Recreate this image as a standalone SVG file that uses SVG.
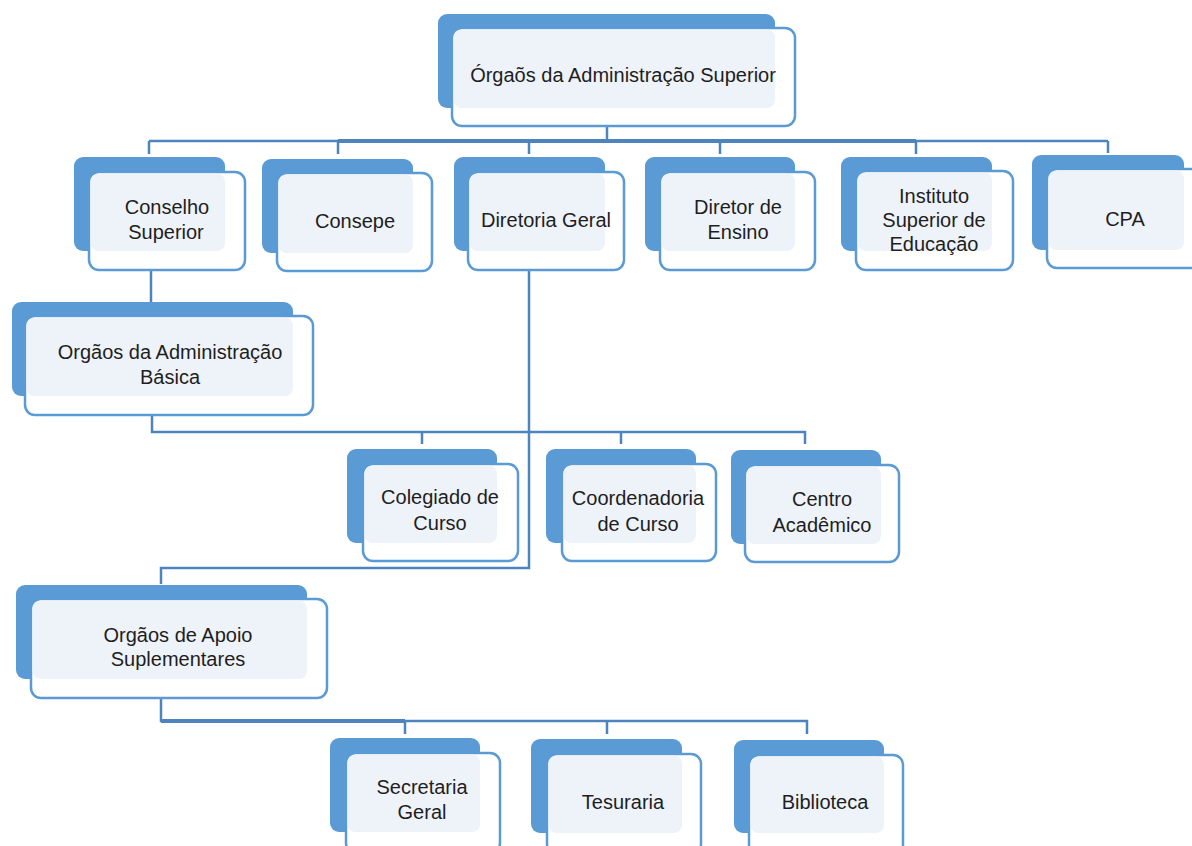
<svg xmlns="http://www.w3.org/2000/svg" width="1192" height="846" viewBox="0 0 1192 846">
<style>
.bk{fill:#5B9BD5}
.fr{fill:#FFFFFF;stroke:#5B9BD5;stroke-width:2.5}
.lt{fill:#EEF3FA}
.t{font-family:"Liberation Sans",Arial,sans-serif;font-size:20px;fill:#1E1E1E;text-anchor:middle}
.c{fill:none;stroke:#4E84BE;stroke-width:2.5}
.ct{fill:none;stroke:#4E84BE;stroke-width:4}
</style>
<rect width="1192" height="846" fill="#FFFFFF"/>
<g id="connectors">
<line class="c" x1="607" y1="113" x2="607" y2="141"/>
<line class="c" x1="149" y1="141" x2="1108" y2="141"/>
<line class="ct" x1="338" y1="141" x2="916" y2="141"/>
<path class="c" d="M149 141V154M338 141V154M529 141V154M720 141V154M916 141V154M1108 141V153"/>
<line class="c" x1="151" y1="258" x2="151" y2="302"/>
<path class="c" d="M152 405V432H805V444M422 432V444M621 432V444"/>
<path class="c" d="M529 258V568H161V584"/>
<path class="c" d="M161 685V721H807V734M405 721V734M607 721V734"/>
<line class="ct" x1="161" y1="721" x2="405" y2="721"/>
</g>
<g id="n-top">
<rect class="bk" x="438" y="14" width="337" height="94" rx="9"/>
<rect class="fr" x="452" y="28" width="343" height="98" rx="10"/>
<rect class="lt" x="453.5" y="29.5" width="321.5" height="78.5" rx="8"/>
<text class="t" x="623" y="82">Órgaõs da Administração Superior</text>
</g>
<g id="n-conselho">
<rect class="bk" x="74" y="157" width="151" height="94" rx="9"/>
<rect class="fr" x="89" y="172" width="156" height="98" rx="10"/>
<rect class="lt" x="90.5" y="173.5" width="134.5" height="77.5" rx="8"/>
<text class="t" x="167" y="214">Conselho</text>
<text class="t" x="166" y="239">Superior</text>
</g>
<g id="n-consepe">
<rect class="bk" x="262" y="159" width="151" height="94" rx="9"/>
<rect class="fr" x="277" y="173" width="155" height="98" rx="10"/>
<rect class="lt" x="278.5" y="174.5" width="134.5" height="78.5" rx="8"/>
<text class="t" x="355" y="228">Consepe</text>
</g>
<g id="n-diretoria">
<rect class="bk" x="454" y="157" width="151" height="94" rx="9"/>
<rect class="fr" x="468" y="172" width="156" height="98" rx="10"/>
<rect class="lt" x="469.5" y="173.5" width="135.5" height="77.5" rx="8"/>
<text class="t" x="546" y="227">Diretoria Geral</text>
</g>
<g id="n-diretor">
<rect class="bk" x="645" y="157" width="150" height="94" rx="9"/>
<rect class="fr" x="660" y="172" width="155" height="98" rx="10"/>
<rect class="lt" x="661.5" y="173.5" width="133.5" height="77.5" rx="8"/>
<text class="t" x="738" y="214">Diretor de</text>
<text class="t" x="738" y="239">Ensino</text>
</g>
<g id="n-instituto">
<rect class="bk" x="841" y="157" width="151" height="94" rx="9"/>
<rect class="fr" x="856" y="171" width="157" height="99" rx="10"/>
<rect class="lt" x="857.5" y="172.5" width="134.5" height="78.5" rx="8"/>
<text class="t" x="934" y="203">Instituto</text>
<text class="t" x="934" y="227">Superior de</text>
<text class="t" x="934" y="251">Educação</text>
</g>
<g id="n-cpa">
<rect class="bk" x="1032" y="155" width="152" height="95" rx="9"/>
<rect class="fr" x="1047" y="169" width="160" height="99" rx="10"/>
<rect class="lt" x="1048.5" y="170.5" width="135.5" height="79.5" rx="8"/>
<text class="t" x="1125" y="226">CPA</text>
</g>
<g id="n-basica">
<rect class="bk" x="12" y="302" width="281" height="94" rx="9"/>
<rect class="fr" x="25" y="316" width="288" height="99" rx="10"/>
<rect class="lt" x="26.5" y="317.5" width="266.5" height="78.5" rx="8"/>
<text class="t" x="170" y="359">Orgãos da Administração</text>
<text class="t" x="170" y="384">Básica</text>
</g>
<g id="n-colegiado">
<rect class="bk" x="347" y="449" width="150" height="94" rx="9"/>
<rect class="fr" x="363" y="464" width="155" height="97" rx="10"/>
<rect class="lt" x="364.5" y="465.5" width="132.5" height="77.5" rx="8"/>
<text class="t" x="440" y="504">Colegiado de</text>
<text class="t" x="440" y="530">Curso</text>
</g>
<g id="n-coordenadoria">
<rect class="bk" x="546" y="449" width="150" height="94" rx="9"/>
<rect class="fr" x="562" y="464" width="154" height="97" rx="10"/>
<rect class="lt" x="563.5" y="465.5" width="132.5" height="77.5" rx="8"/>
<text class="t" x="638" y="505">Coordenadoria</text>
<text class="t" x="638" y="531">de Curso</text>
</g>
<g id="n-centro">
<rect class="bk" x="731" y="450" width="150" height="94" rx="9"/>
<rect class="fr" x="745" y="465" width="154" height="97" rx="10"/>
<rect class="lt" x="746.5" y="466.5" width="134.5" height="77.5" rx="8"/>
<text class="t" x="822" y="506">Centro</text>
<text class="t" x="822" y="532">Acadêmico</text>
</g>
<g id="n-apoio">
<rect class="bk" x="16" y="585" width="291" height="94" rx="9"/>
<rect class="fr" x="31" y="599" width="296" height="99" rx="10"/>
<rect class="lt" x="32.5" y="600.5" width="274.5" height="78.5" rx="8"/>
<text class="t" x="178" y="642">Orgãos de Apoio</text>
<text class="t" x="178" y="666">Suplementares</text>
</g>
<g id="n-secretaria">
<rect class="bk" x="330" y="738" width="150" height="94" rx="9"/>
<rect class="fr" x="346" y="753" width="154" height="100" rx="10"/>
<rect class="lt" x="347.5" y="754.5" width="132.5" height="77.5" rx="8"/>
<text class="t" x="422" y="794">Secretaria</text>
<text class="t" x="422" y="819">Geral</text>
</g>
<g id="n-tesuraria">
<rect class="bk" x="531" y="739" width="151" height="94" rx="9"/>
<rect class="fr" x="547" y="754" width="154" height="100" rx="10"/>
<rect class="lt" x="548.5" y="755.5" width="133.5" height="77.5" rx="8"/>
<text class="t" x="623" y="809">Tesuraria</text>
</g>
<g id="n-biblioteca">
<rect class="bk" x="734" y="740" width="150" height="93" rx="9"/>
<rect class="fr" x="749" y="755" width="154" height="100" rx="10"/>
<rect class="lt" x="750.5" y="756.5" width="133.5" height="76.5" rx="8"/>
<text class="t" x="825" y="809">Biblioteca</text>
</g>
</svg>
